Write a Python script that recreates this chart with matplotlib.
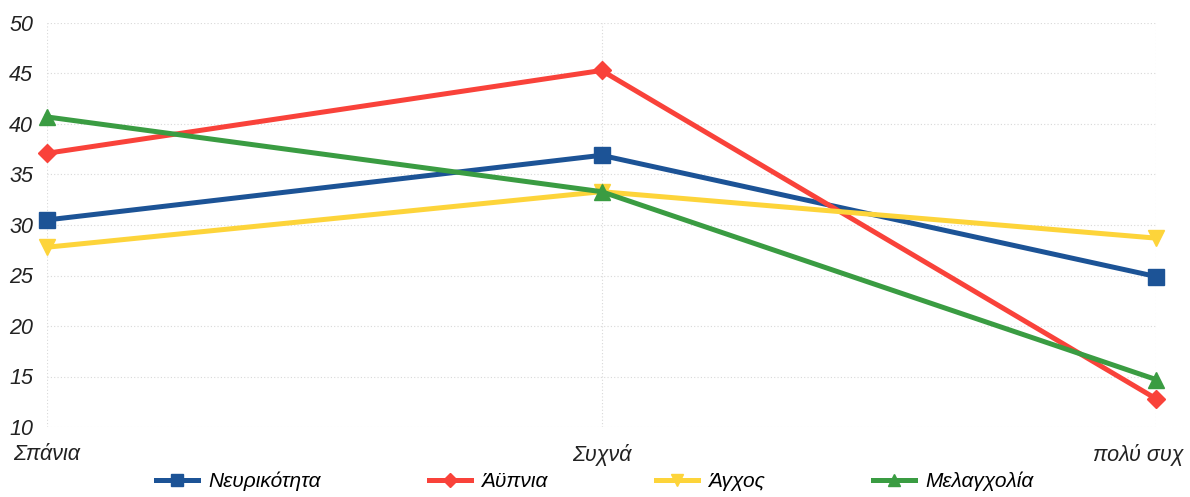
import matplotlib
matplotlib.use("Agg")
import matplotlib.pyplot as plt
import matplotlib.transforms as mtransforms
import numpy as np

plt.rcParams['font.family'] = ['Liberation Sans', 'DejaVu Sans']
plt.rcParams['font.style'] = 'italic'

categories = ["Σπάνια", "Συχνά", "πολύ συχ"]
nevrikotita = [30.5, 36.9, 24.9]
aypnia = [37.1, 45.3, 12.8]
agxos = [27.8, 33.3, 28.7]
melagxolia = [40.7, 33.3, 14.7]

series = [
    ("Νευρικότητα", nevrikotita, "#1c5396", "s", 11),
    ("Άϋπνια", aypnia, "#f9423a", "D", 9),
    ("Άγχος", agxos, "#fdd43a", "v", 12),
    ("Μελαγχολία", melagxolia, "#3a9c42", "^", 12),
]

fig = plt.figure(figsize=(11.9, 4.97), dpi=100)
ax = fig.add_axes([47 / 1190, 1 - 427 / 497, (1156 - 47) / 1190, (427 - 23) / 497])

x = np.arange(len(categories))
for name, vals, col, mk, ms in series:
    ax.plot(x, vals, color=col, lw=3.6, marker=mk, markersize=ms, label=name,
            solid_joinstyle='miter', clip_on=False, zorder=3)

ax.set_xlim(0, 2)
ax.set_ylim(10, 50)
ax.set_yticks(range(10, 51, 5))
ax.set_xticks(x)
ax.set_xticklabels(categories)
for sp in ax.spines.values():
    sp.set_visible(False)
ax.tick_params(length=0, labelsize=15.5, colors='#222222')
ax.tick_params(axis='x', pad=12)
ax.tick_params(axis='y', pad=10)
ax.grid(True, color='#d8d8d8', lw=0.8, linestyle=(0, (1, 2)))
ax.set_axisbelow(True)

# keep the last category label inside the figure
labels = ax.get_xticklabels()
off = mtransforms.ScaledTranslation(-18 / 100, 0, fig.dpi_scale_trans)
labels[2].set_transform(labels[2].get_transform() + off)

fig.legend(loc='lower center', bbox_to_anchor=(0.5, -0.022), ncol=4, frameon=False,
           fontsize=15, handlelength=2.0, columnspacing=5.2, handletextpad=0.5,
           markerscale=0.75, borderpad=0.3)

fig.savefig("out.png", dpi=100)
